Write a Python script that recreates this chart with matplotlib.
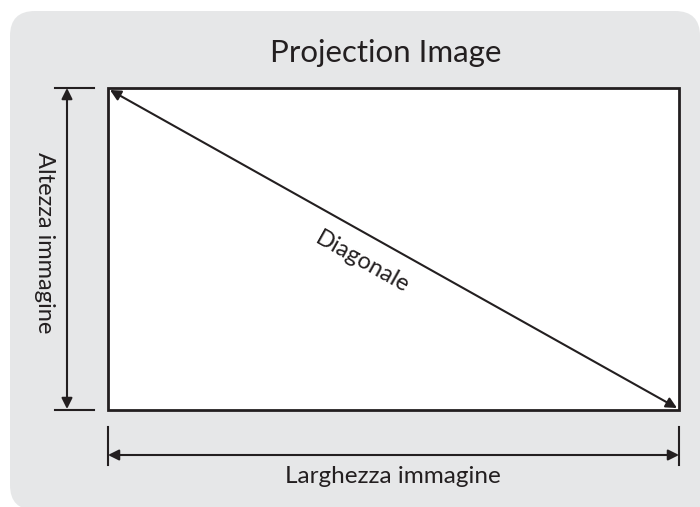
import matplotlib.pyplot as plt
from matplotlib.patches import FancyBboxPatch, Rectangle, FancyArrowPatch

# labels
title = 'Projection Image'
heightLabel = 'Altezza immagine'
widthLabel = 'Larghezza immagine'
diagLabel = 'Diagonale'

# image frame in pixel coords (left, top, right, bottom)
frame = [108, 88, 679, 410]

ink = '#231f20'
panelColor = '#e6e7e8'

fig = plt.figure(figsize=(7, 5.07), dpi=100)
ax = fig.add_axes([0, 0, 1, 1])
ax.set_xlim(0, 700)
ax.set_ylim(507, 0)
ax.axis('off')

# gray rounded panel (bottom right runs off the picture)
panel = FancyBboxPatch((10, 11), 690, 499, boxstyle='round,pad=0,rounding_size=25',
                       fc=panelColor, ec='none')
ax.add_patch(panel)
ax.add_patch(Rectangle((600, 400), 110, 120, fc=panelColor, ec='none'))

x0, y0, x1, y1 = frame
ax.add_patch(Rectangle((x0, y0), x1 - x0, y1 - y0, fc='white', ec=ink, lw=2.0))

def arrow(p, q):
    a = FancyArrowPatch(p, q, arrowstyle='<|-|>', mutation_scale=16,
                        color=ink, lw=1.5, shrinkA=0, shrinkB=0)
    ax.add_patch(a)

# height dimension
ax.plot([55, 94], [y0, y0], color=ink, lw=1.5)
ax.plot([55, 94], [y1, y1], color=ink, lw=1.5)
arrow((67, y0), (67, y1 - 1))

# width dimension
ax.plot([x0, x0], [427, 465], color=ink, lw=1.5)
ax.plot([x1, x1], [427, 465], color=ink, lw=1.5)
arrow((x0, 455), (x1, 455))

# diagonal
arrow((x0 + 2, y0 + 2), (x1 - 2, y1 - 2))

font = 'Lato'
ax.text(386, 62, title, ha='center', va='baseline', fontsize=22.5, color=ink, family=font)
ax.text(38, 243, heightLabel, ha='center', va='baseline', rotation=-90,
        rotation_mode='anchor', fontsize=17, color=ink, family=font)
ax.text(393, 483, widthLabel, ha='center', va='baseline', fontsize=17.5, color=ink, family=font)
ax.text(362, 262, diagLabel, ha='center', va='center', rotation=-29.3,
        rotation_mode='anchor', fontsize=17, color=ink, family=font)

fig.savefig('out.png', dpi=100)
